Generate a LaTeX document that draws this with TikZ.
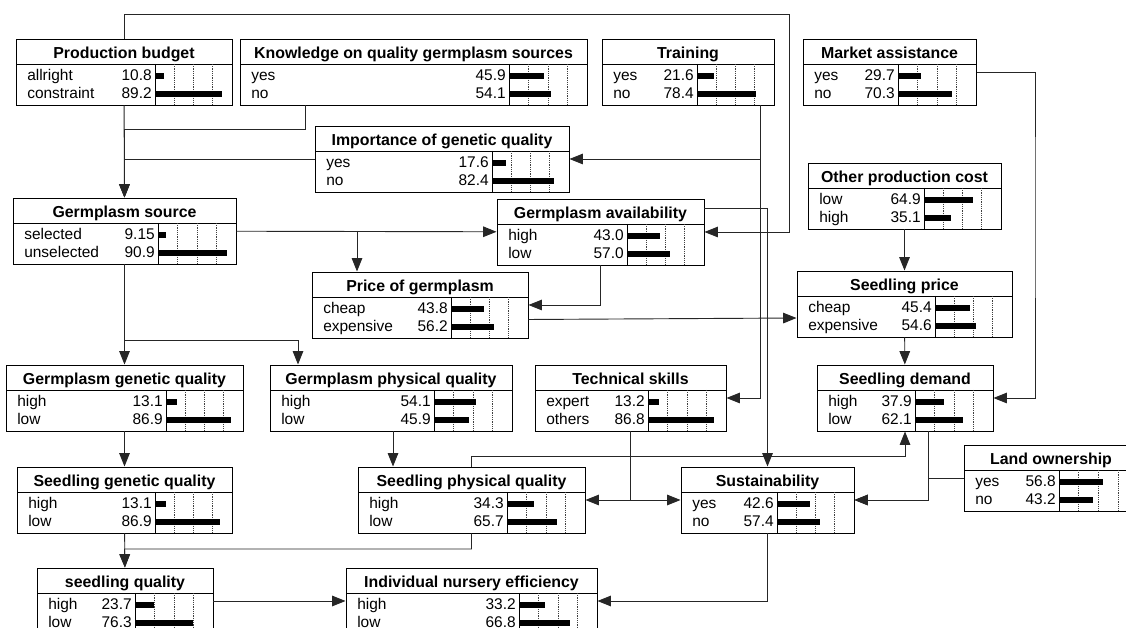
\documentclass[tikz,border=0pt]{standalone}
\usepackage{fontspec}
\setmainfont{Liberation Sans}
\usetikzlibrary{arrows.meta,fit}
\newcommand{\bnfont}{\fontsize{11}{13}\selectfont}
\newcommand{\bntitlefont}{\bfseries\fontsize{11.3}{13}\selectfont}
\tikzset{
    bn/chart/.style={x=0.025cm, y=-0.025cm, font=\bnfont},
    bn/box/.style={rectangle, draw=black, fill=white, line width=0.7pt, inner sep=0pt},
    bn/rule/.style={draw=black, line width=0.7pt},
    bn/grid/.style={draw=black!75, line width=0.4pt, dash pattern=on 0.8pt off 0.8pt},
    bn/bar/.style={fill=black},
    bn/title/.style={font=\bntitlefont, anchor=base, inner sep=0pt},
    bn/state/.style={anchor=base west, inner sep=0pt},
    bn/value/.style={anchor=base east, inner sep=0pt},
    bn/arrow/.style={-{Triangle[length=9.5pt,width=7.5pt]}, line width=0.65pt, draw=black!85}
}
\newcommand{\bnnode}[7]{%
    \node[bn/box, fit={(#2,#3) (#4,#3+66)}] (#1) {};
    \draw[bn/rule] (#2,#3+25) -- (#4,#3+25);
    \draw[bn/rule] (#5,#3+25) -- (#5,#3+66);
    \foreach \q in {0.25,0.5,0.75}
        \draw[bn/grid] ({#5+\q*(#4-#5)},#3+25) -- ++(0,41);
    \node[bn/title] (#1-title) at ({(#2+#4)/2},#3+20) {#6};
    \foreach \s/\v [count=\i] in {#7} {
        \pgfmathsetmacro{\rowy}{#3+25+(\i-1)*18}
        \node[bn/state] (#1-s\i) at (#2+11,\rowy+17) {\s};
        \node[bn/value] (#1-v\i) at (#5-3,\rowy+17) {\v};
        \fill[bn/bar] (#5+1,\rowy+9) rectangle ({#5+1+\v*(#4-#5-3)/100},\rowy+15);
    }
}

\begin{document}
\begin{tikzpicture}[bn/chart]
    \useasboundingbox (0,0) rectangle (1126,628);
    \clip (0,0) rectangle (1126,628);
    \bnnode{budget}{16}{39}{232}{155}{Production budget}{allright/10.8, constraint/89.2}
    \bnnode{knowledge}{240}{39}{587}{509}{Knowledge on quality germplasm sources}{yes/45.9, no/54.1}
    \bnnode{training}{602}{39}{774}{697}{Training}{yes/21.6, no/78.4}
    \bnnode{market}{803}{39}{976}{898}{Market assistance}{yes/29.7, no/70.3}
    \bnnode{importance}{315}{126}{569}{492}{Importance of genetic quality}{yes/17.6, no/82.4}
    \bnnode{othercost}{808}{163}{1001}{924}{Other production cost}{low/64.9, high/35.1}
    \bnnode{source}{13}{198}{236}{158}{Germplasm source}{selected/9.15, unselected/90.9}
    \bnnode{availability}{497}{199}{704}{627}{Germplasm availability}{high/43.0, low/57.0}
    \bnnode{gprice}{312}{272}{528}{451}{Price of germplasm}{cheap/43.8, expensive/56.2}
    \bnnode{sprice}{797}{271}{1012}{935}{Seedling price}{cheap/45.4, expensive/54.6}
    \bnnode{gengq}{6}{365}{243}{166}{Germplasm genetic quality}{high/13.1, low/86.9}
    \bnnode{genpq}{270}{365}{512}{434}{Germplasm physical quality}{high/54.1, low/45.9}
    \bnnode{skills}{535}{365}{726}{648}{Technical skills}{expert/13.2, others/86.8}
    \bnnode{demand}{817}{365}{993}{915}{Seedling demand}{high/37.9, low/62.1}
    \bnnode{land}{964}{445}{1138}{1059}{Land ownership}{yes/56.8, no/43.2}
    \bnnode{sgenq}{17}{467}{232}{155}{Seedling genetic quality}{high/13.1, low/86.9}
    \bnnode{sphysq}{358}{467}{585}{507}{Seedling physical quality}{high/34.3, low/65.7}
    \bnnode{sustain}{681}{467}{854}{777}{Sustainability}{yes/42.6, no/57.4}
    \bnnode{squality}{37}{568}{213}{135}{seedling quality}{high/23.7, low/76.3}
    \bnnode{efficiency}{346}{568}{597}{519}{Individual nursery efficiency}{high/33.2, low/66.8}
    \foreach \source/\target in {budget/source,othercost/sprice,sprice/demand,source/availability,source/gengq,gengq/sgenq,sgenq/squality,squality/efficiency}
        \draw[bn/arrow] (\source) -- (\target);
    \draw[bn/arrow] (budget.north) |- (789,14) |- (availability.east);
    \draw[bn/arrow] (knowledge.south -| 305,0) |- (124.5,129) -- (source.north);
    \draw[bn/arrow] (importance.west) -| (source.north);
    \draw[bn/arrow] (training.south -| 760,0) |- (importance.east);
    \draw[bn/arrow] (training.south -| 760,0) |- (skills.east);
    \draw[bn/arrow] (availability.north east) ++(0,10) -| (sustain.north);
    \draw[bn/arrow] (market.east) -| (1035,200) |- (demand.east);
    \draw[bn/arrow] (source.east -| 357,0) -- (gprice.north -| 357,0);
    \draw[bn/arrow] (availability.south) |- (gprice.east);
    \draw[bn/arrow] (gprice.south east) ++(0,-19) -- (sprice.west |- 0,318);
    \draw[bn/arrow] (source.south) |- (298,340) -- (genpq.north -| 298,0);
    \draw[bn/arrow] (genpq.south -| 393,0) -- (sphysq.north -| 393,0);
    \draw[bn/arrow] (sphysq.south) |- (124.5,549) -- (squality.north);
    \draw[bn/arrow] (sustain.south) |- (efficiency.east);
    \draw[bn/arrow] (sphysq.north) |- (905,456) -- (demand.south);
    \draw[bn/arrow] (skills.south) |- (sphysq.east);
    \draw[bn/arrow] (skills.south) |- (sustain.west);
    \draw[bn/arrow] (demand.south -| 928,0) |- (sustain.east);
    \draw[bn/arrow] (land.west) -| (928,500) -- (sustain.east);
\end{tikzpicture}
\end{document}
